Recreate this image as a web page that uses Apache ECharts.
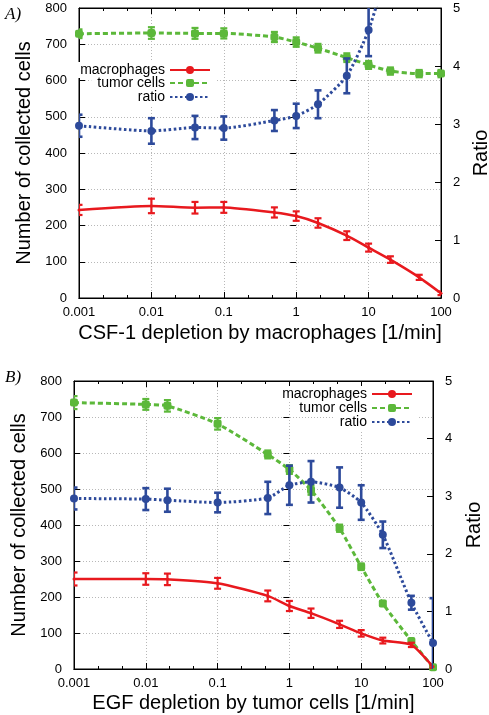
<!DOCTYPE html>
<html><head><meta charset="utf-8">
<script src="https://cdn.jsdelivr.net/npm/echarts@6/dist/echarts.min.js"></script>
<style>html,body{margin:0;padding:0;background:#fff}#c{width:489px;height:715px}</style>
</head><body><div id="c"></div>
<script>
// ---- Panel A: CSF-1 depletion by macrophages ----
const xA = [0.001, 0.01, 0.04, 0.1, 0.5, 1, 2, 5, 10, 20, 50, 100];
const macA = [243, 254, 249, 250, 236, 226, 207, 172, 139, 106, 57, 13];
const macAErr = [14, 20, 16, 15, 14, 13, 13, 12, 11, 9, 7, 5];
const tumA = [729, 731, 730, 730, 720, 706, 689, 663, 643, 626, 619, 619];
const tumAErr = [12, 16, 15, 14, 14, 13, 12, 12, 11, 10, 10, 10];
const ratioA = [2.97, 2.88, 2.94, 2.93, 3.06, 3.14, 3.34, 3.83, 4.62, 5.96, 11.2, 50];
const ratioAErr = [0.19, 0.22, 0.2, 0.2, 0.18, 0.21, 0.24, 0.3, 0.45, 0.6, 1.5, 10];
// ---- Panel B: EGF depletion by tumor cells ----
const xB = [0.001, 0.01, 0.02, 0.1, 0.5, 1, 2, 5, 10, 20, 50, 100];
const macB = [250, 250, 249, 238, 203, 175, 155, 124, 99, 79, 67, 6];
const macBErr = [18, 16, 16, 15, 15, 14, 13, 10, 9, 8, 6, 4];
const tumB = [740, 735, 731, 681, 596, 554, 497, 391, 284, 182, 78, 5];
const tumBErr = [18, 15, 16, 16, 11, 12, 13, 10, 9, 7, 5, 3];
const ratioB = [2.96, 2.95, 2.93, 2.89, 2.97, 3.19, 3.25, 3.15, 2.89, 2.33, 1.15, 0.45];
const ratioBErr = [0.19, 0.19, 0.2, 0.17, 0.28, 0.34, 0.36, 0.35, 0.3, 0.23, 0.12, 0.78];

const seriesNames = ['macrophages', 'tumor cells', 'ratio'];
const xTitles = ['CSF-1 depletion by macrophages [1/min]', 'EGF depletion by tumor cells [1/min]'];
const yTitle = 'Number of collected cells';
const y2Title = 'Ratio';
const panelLabels = ['A)', 'B)'];

const FONT = '"Liberation Sans", Arial, Helvetica, sans-serif';
const RED = '#e8191e', GREEN = '#5cb83a', BLUE = '#2d4a9b';

const chart = echarts.init(document.getElementById('c'));

function pairs(xs, ys) { return xs.map((x, i) => [x, ys[i]]); }
function errs(xs, ys, es) { return xs.map((x, i) => [x, ys[i] - es[i], ys[i] + es[i]]); }
function errRender(color, w) {
  return function (params, api) {
    const x = api.value(0);
    const lo = api.coord([x, api.value(1)]);
    const hi = api.coord([x, api.value(2)]);
    const c = 3.5;
    const style = { stroke: color, lineWidth: w };
    const cs = params.coordSys;
    return {
      type: 'group',
      clipPath: { type: 'rect', shape: { x: cs.x, y: cs.y, width: cs.width, height: cs.height } },
      children: [
        { type: 'line', shape: { x1: lo[0], y1: lo[1], x2: hi[0], y2: hi[1] }, style },
        { type: 'line', shape: { x1: lo[0] - c, y1: lo[1], x2: lo[0] + c, y2: lo[1] }, style },
        { type: 'line', shape: { x1: hi[0] - c, y1: hi[1], x2: hi[0] + c, y2: hi[1] }, style }
      ]
    };
  };
}
const fmtX = v => String(parseFloat(Number(v).toPrecision(6)));

function xAxes(gi, name, gap) {
  const tick = { show: true, inside: true, length: 6, lineStyle: { color: '#000' } };
  // log axis (labels, grid) + exponent-space mirror axes for ticks and minor ticks
  const expAxis = (pos) => ({
    type: 'value', gridIndex: gi, position: pos, min: -3, max: 2, interval: 1,
    axisLine: { show: true, onZero: false, lineStyle: { color: '#000', width: 1 } },
    axisTick: tick,
    minorTick: { show: true, splitNumber: 3, length: 3, lineStyle: { color: '#000' } },
    axisLabel: { show: false }, splitLine: { show: false }
  });
  return [
    {
      type: 'log', logBase: 10, min: 0.001, max: 100, gridIndex: gi, position: 'bottom',
      name: name, nameLocation: 'middle', nameGap: gap,
      nameTextStyle: { fontFamily: FONT, fontSize: 20, color: '#000' },
      axisLine: { show: true, onZero: false, lineStyle: { color: '#000', width: 1 } },
      axisTick: tick,
      axisLabel: { fontFamily: FONT, fontSize: 13, color: '#000', margin: 8, formatter: fmtX },
      splitLine: { show: true, lineStyle: { color: '#b8b8b8', type: [1, 2], width: 1 } }
    },
    expAxis('top'),
    expAxis('bottom')
  ];
}
function yAxes(gi, lgap, rgap) {
  return [
    {
      type: 'value', gridIndex: gi, position: 'left', min: 0, max: 800, interval: 100,
      name: yTitle, nameLocation: 'middle', nameGap: lgap,
      nameTextStyle: { fontFamily: FONT, fontSize: 20, color: '#000' },
      axisLine: { show: true, onZero: false, lineStyle: { color: '#000' } },
      axisTick: { show: true, inside: true, length: 6, lineStyle: { color: '#000' } },
      axisLabel: { fontFamily: FONT, fontSize: 13, color: '#000', margin: 12 },
      splitLine: { show: true, lineStyle: { color: '#b8b8b8', type: [1, 2], width: 1 } }
    },
    {
      type: 'value', gridIndex: gi, position: 'right', min: 0, max: 5, interval: 1,
      name: y2Title, nameLocation: 'middle', nameGap: rgap,
      nameTextStyle: { fontFamily: FONT, fontSize: 20, color: '#000' },
      axisLine: { show: true, onZero: false, lineStyle: { color: '#000' } },
      axisTick: { show: true, inside: true, length: 6, lineStyle: { color: '#000' } },
      axisLabel: { fontFamily: FONT, fontSize: 13, color: '#000', margin: 12 },
      splitLine: { show: false }
    },
    {
      type: 'value', gridIndex: gi, position: 'right', min: 0, max: 800, interval: 100,
      axisLine: { show: false },
      axisTick: { show: true, inside: true, length: 6, lineStyle: { color: '#000' } },
      axisLabel: { show: false }, splitLine: { show: false }
    }
  ];
}
function panelSeries(p, xs, mac, macE, tum, tumE, rat, ratE) {
  const xi = p * 3, yi = p * 3;
  return [
    { name: seriesNames[0], type: 'line', xAxisIndex: xi, yAxisIndex: yi, data: pairs(xs, mac), smooth: 0.2,
      symbol: 'circle', symbolSize: 3, color: RED, lineStyle: { color: RED, width: 2.5 }, itemStyle: { color: RED }, z: 4 },
    { name: 'macErr' + p, type: 'custom', xAxisIndex: xi, yAxisIndex: yi, data: errs(xs, mac, macE),
      renderItem: errRender(RED, 2.2), encode: { x: 0, y: [1, 2] }, z: 4 },
    { name: seriesNames[1], type: 'line', xAxisIndex: xi, yAxisIndex: yi, data: pairs(xs, tum), smooth: 0.2,
      symbol: 'roundRect', symbolSize: 8, color: GREEN, lineStyle: { color: GREEN, width: 3, type: [5, 3] }, itemStyle: { color: GREEN }, z: 3 },
    { name: 'tumErr' + p, type: 'custom', xAxisIndex: xi, yAxisIndex: yi, data: errs(xs, tum, tumE),
      renderItem: errRender(GREEN, 2.2), encode: { x: 0, y: [1, 2] }, z: 3 },
    { name: seriesNames[2], type: 'line', xAxisIndex: xi, yAxisIndex: yi + 1, data: pairs(xs, rat), smooth: 0.2,
      symbol: 'circle', symbolSize: 8, color: BLUE, lineStyle: { color: BLUE, width: 3, type: [2.5, 2.5] }, itemStyle: { color: BLUE }, z: 5 },
    { name: 'ratErr' + p, type: 'custom', xAxisIndex: xi, yAxisIndex: yi + 1, data: errs(xs, rat, ratE),
      renderItem: errRender(BLUE, 2.6), encode: { x: 0, y: [1, 2] }, z: 5 }
  ];
}
function leg(name, right, top) {
  return {
    data: [name], right: right, top: top, align: 'right', itemWidth: 40, itemHeight: 10, itemGap: 0,
    padding: [1, 4, 1, 6], backgroundColor: '#fff', selectedMode: false, z: 10,
    textStyle: { fontFamily: FONT, fontSize: 14, color: '#000' }
  };
}
const panelLabelStyle = { fontFamily: '"Liberation Serif", "DejaVu Serif", serif', fontStyle: 'italic', fontWeight: 'normal', fontSize: 17, color: '#000' };

const option = {
  backgroundColor: '#fff',
  animation: false,
  title: [
    { text: panelLabels[0], left: 0, top: 1, textStyle: panelLabelStyle },
    { text: panelLabels[1], left: 0, top: 364, textStyle: panelLabelStyle }
  ],
  grid: [
    { left: 79, top: 8, width: 362, height: 290, show: true, borderColor: '#000', borderWidth: 1, backgroundColor: 'transparent', outerBoundsMode: 'none', containLabel: false },
    { left: 74, top: 381, width: 359, height: 288, show: true, borderColor: '#000', borderWidth: 1, backgroundColor: 'transparent', outerBoundsMode: 'none', containLabel: false }
  ],
  xAxis: xAxes(0, xTitles[0], 25).concat(xAxes(1, xTitles[1], 24)),
  yAxis: yAxes(0, 44, 28).concat(yAxes(1, 45, 31)),
  legend: [
    leg(seriesNames[0], 274, 62), leg(seriesNames[1], 274, 75), leg(seriesNames[2], 274, 89),
    leg(seriesNames[0], 72, 386), leg(seriesNames[1], 72, 400), leg(seriesNames[2], 72, 414)
  ],
  series: panelSeries(0, xA, macA, macAErr, tumA, tumAErr, ratioA, ratioAErr)
    .concat(panelSeries(1, xB, macB, macBErr, tumB, tumBErr, ratioB, ratioBErr))
};
chart.setOption(option);
</script>
</body></html>
